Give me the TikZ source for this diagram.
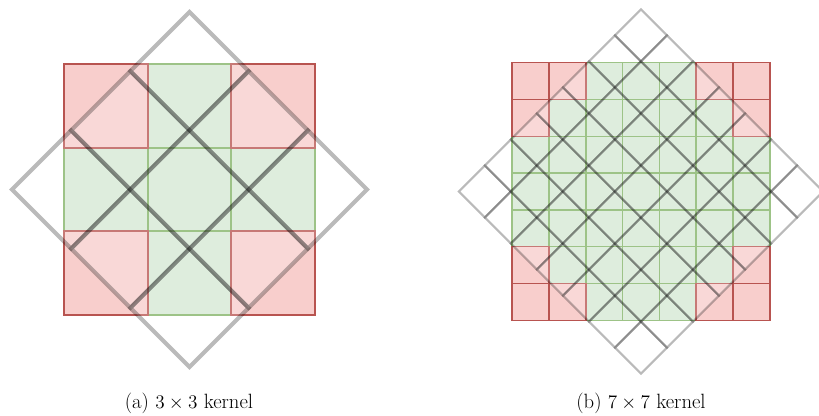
\documentclass[tikz,border=0pt]{standalone}
\definecolor{cellred}{HTML}{F8CECC}
\definecolor{cellredline}{HTML}{B85450}
\definecolor{cellgreen}{HTML}{D5E8D4}
\definecolor{cellgreenline}{HTML}{82B366}
\tikzset{
  greencell/.style={fill=cellgreen,draw=cellgreenline},
  redcell/.style={fill=cellred,draw=cellredline},
  rotcell/.style={fill=white,fill opacity=0.22,draw=black,draw opacity=0.27},
  caption/.style={anchor=base,font=\fontsize{15.5}{18}\selectfont}
}
% #1,#2 centre, #3 size n, #4 cell side, #5 corner depth of red cells,
% #6 width of the square grid lines, #7 width of the rotated grid lines
\newcommand\kernelpic[7]{%
  \foreach \i in {1,...,#3}{%
    \foreach \j in {1,...,#3}{%
      \path[greencell,line width=#6]
        ({#1+(\i-1-#3/2)*#4},{#2+(\j-1-#3/2)*#4}) rectangle ++(#4,#4);
    }%
  }%
  \foreach \i in {1,...,#3}{%
    \foreach \j in {1,...,#3}{%
      \pgfmathtruncatemacro\di{min(\i-1,#3-\i)}%
      \pgfmathtruncatemacro\dj{min(\j-1,#3-\j)}%
      \ifnum\numexpr\di+\dj\relax<#5
        \path[redcell,line width=#6]
          ({#1+(\i-1-#3/2)*#4},{#2+(\j-1-#3/2)*#4}) rectangle ++(#4,#4);
      \fi
    }%
  }%
  \begin{scope}[shift={(#1,#2)},rotate=45]
    \foreach \i in {1,...,#3}{%
      \foreach \j in {1,...,#3}{%
        \path[rotcell,line width=#7]
          ({(\i-1-#3/2)*#4},{(\j-1-#3/2)*#4}) rectangle ++(#4,#4);
      }%
    }%
  \end{scope}
}
\begin{document}
\begin{tikzpicture}[x=0.75pt,y=-0.75pt]
  \useasboundingbox (0,0) rectangle (819,415);
  % 3 x 3 kernel
  \kernelpic{189.5}{189.5}{3}{83.7}{1}{1.5pt}{3pt}
  % 7 x 7 kernel
  \kernelpic{641}{191.5}{7}{36.8}{2}{1.1pt}{1.6pt}
  \node[caption] (capa) at (189,408) {(a) $3\times3$ kernel};
  \node[caption] (capb) at (641,408) {(b) $7\times7$ kernel};
\end{tikzpicture}
\end{document}
